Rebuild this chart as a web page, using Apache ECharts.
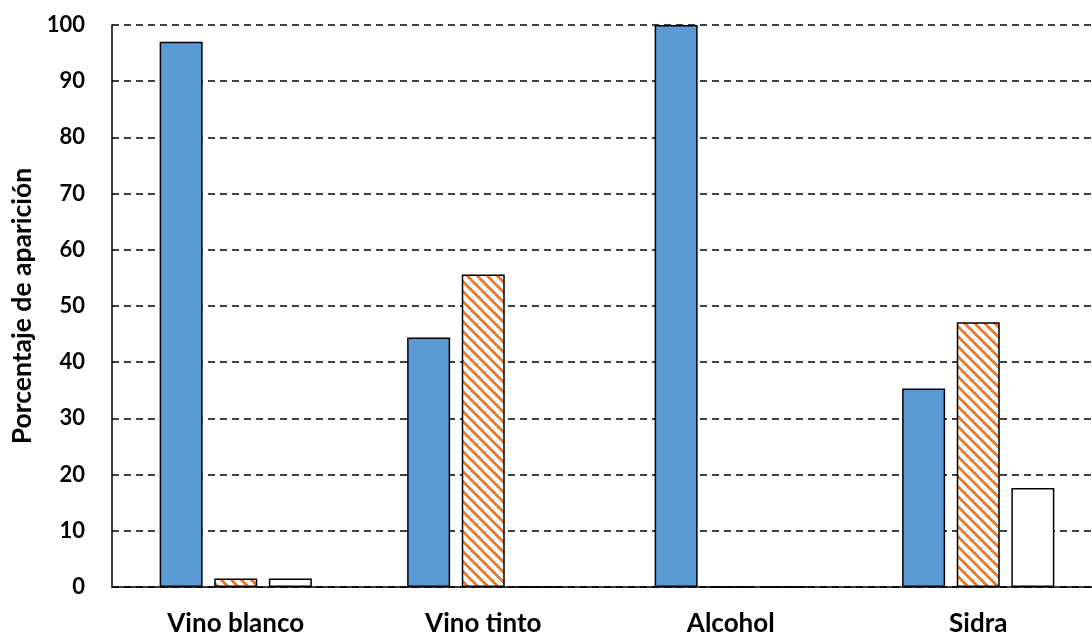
<!DOCTYPE html>
<html>
<head>
<meta charset="utf-8">
<script src="https://cdn.jsdelivr.net/npm/echarts@6/dist/echarts.min.js"></script>
<style>
  html, body { margin: 0; padding: 0; background: #fff; overflow: hidden; }
  /* the plot area runs a little past the right edge of the page */
  #chart { width: 1102px; height: 637px; }
</style>
</head>
<body>
<div id="chart"></div>
<script>
// Beverage categories and share of appearance (%) per group
const categories = ['Vino blanco', 'Vino tinto', 'Alcohol', 'Sidra'];
const seriesA = [97.0, 44.4, 100.0, 35.3];
const seriesB = [1.5, 55.6, 0, 47.1];
const seriesC = [1.5, 0, 0, 17.6];
const yTicks = { min: 0, max: 100, interval: 10 };

// Diagonal orange hatch used for the second series
function hatchPattern() {
  const size = 10;
  const c = document.createElement('canvas');
  c.width = size; c.height = size;
  const ctx = c.getContext('2d');
  ctx.fillStyle = '#ffffff';
  ctx.fillRect(0, 0, size, size);
  ctx.fillStyle = '#ED7D31';
  for (let y = 0; y < size; y++) {
    for (let x = 0; x < size; x++) {
      const d = ((x - y) % size + size) % size;
      if (d < 4) ctx.fillRect(x, y, 1, 1);
    }
  }
  return { image: c, repeat: 'repeat' };
}

const font = 'Lato';
const chart = echarts.init(document.getElementById('chart'), null, { renderer: 'canvas' });

const barBorder = { borderColor: '#000', borderWidth: 1.5 };

chart.setOption({
  animation: false,
  backgroundColor: '#ffffff',
  grid: { left: 112, right: 0, top: 25, bottom: 49, containLabel: false },
  xAxis: {
    type: 'category',
    data: categories,
    axisLine: { show: true, lineStyle: { color: '#000', width: 1.5 } },
    axisTick: { show: false },
    axisLabel: {
      color: '#000', fontFamily: font, fontWeight: 'bold', fontSize: 26, margin: 24
    },
    splitLine: { show: false }
  },
  yAxis: {
    type: 'value',
    min: yTicks.min, max: yTicks.max, interval: yTicks.interval,
    name: 'Porcentaje de aparición',
    nameLocation: 'middle',
    nameGap: 73,
    nameTextStyle: { color: '#000', fontFamily: font, fontWeight: 'bold', fontSize: 26.5 },
    axisLine: { show: true, lineStyle: { color: '#000', width: 1.5 } },
    axisTick: { show: false },
    axisLabel: {
      color: '#000', fontFamily: font, fontWeight: 'bold', fontSize: 22, margin: 27
    },
    splitLine: { show: true, lineStyle: { color: '#000', width: 1.5, type: [7, 5] } }
  },
  series: [
    {
      type: 'bar', data: seriesA, barWidth: 43, barGap: '27%',
      itemStyle: Object.assign({ color: '#5B9BD5' }, barBorder)
    },
    {
      type: 'bar', data: seriesB, barWidth: 43, barGap: '27%',
      itemStyle: Object.assign({ color: hatchPattern() }, barBorder)
    },
    {
      type: 'bar', data: seriesC, barWidth: 43, barGap: '27%',
      itemStyle: Object.assign({ color: '#ffffff' }, barBorder)
    }
  ]
});
</script>
</body>
</html>
